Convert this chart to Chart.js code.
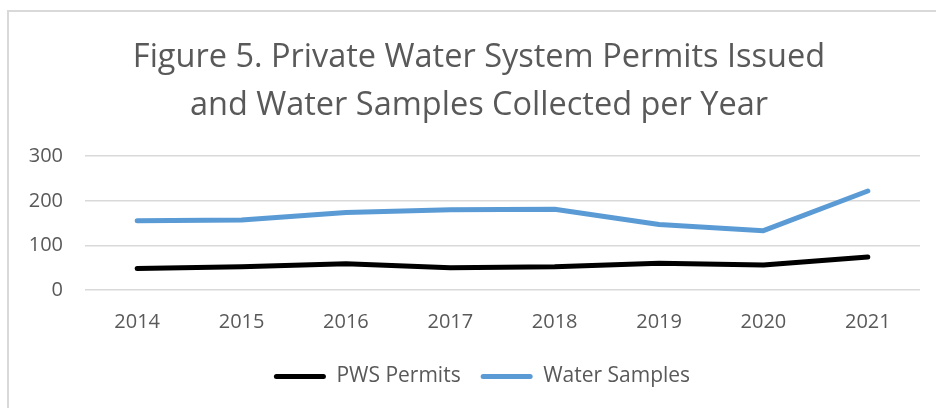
<!DOCTYPE html>
<html>
<head>
<meta charset="utf-8">
<script src="https://cdn.jsdelivr.net/npm/chart.js@4.4.0/dist/chart.umd.min.js"></script>
<style>
  html, body { margin: 0; padding: 0; background: #fff; }
  body { width: 936px; height: 408px; position: relative; overflow: hidden; }
  .marco {
    position: absolute; left: 7px; top: 10px; width: 960px; height: 430px;
    border-left: 2px solid #d9d9d9; border-top: 2px solid #d9d9d9;
  }
  .lienzo { position: absolute; left: 0; top: 0; width: 936px; height: 408px; }
</style>
</head>
<body>
<div class="marco"></div>
<div class="lienzo"><canvas id="grafica"></canvas></div>
<script>
// Datos
const anios = ['2014', '2015', '2016', '2017', '2018', '2019', '2020', '2021'];
const permisosPWS = [48, 52, 59, 50, 52, 60, 56, 74];
const muestrasAgua = [155, 157, 174, 180, 181, 147, 133, 222];
const ticksY = [0, 100, 200, 300];

const gris = '#595959';
const fuente = "'Open Sans', sans-serif";

// El título y la leyenda del original están centrados algo más a la derecha
const desplazarCajas = {
    id: 'desplazarCajas',
    afterLayout(chart) {
        const mover = (caja, dx) => { if (caja) { caja.left += dx; caja.right += dx; } };
        mover(chart.titleBlock, 9);
        mover(chart.legend, 12);
    }
};

const ctx = document.getElementById('grafica').getContext('2d');
new Chart(ctx, {
    type: 'line',
    data: {
        labels: anios,
        datasets: [
            {
                label: 'PWS Permits',
                data: permisosPWS,
                borderColor: '#000000',
                backgroundColor: '#000000',
                borderWidth: 5,
                borderCapStyle: 'round',
                borderJoinStyle: 'round',
                pointRadius: 0,
                tension: 0
            },
            {
                label: 'Water Samples',
                data: muestrasAgua,
                borderColor: '#5b9bd5',
                backgroundColor: '#5b9bd5',
                borderWidth: 5,
                borderCapStyle: 'round',
                borderJoinStyle: 'round',
                pointRadius: 0,
                tension: 0
            }
        ]
    },
    options: {
        responsive: true,
        maintainAspectRatio: false,
        animation: false,
        layout: { padding: { top: 34, left: 20, right: 16, bottom: 11 } },
        plugins: {
            title: {
                display: true,
                text: ['Figure 5. Private Water System Permits Issued', 'and Water Samples Collected per Year'],
                color: gris,
                font: { family: fuente, size: 32.5, weight: 'normal', lineHeight: 1.48 },
                padding: { top: 0, bottom: 26 }
            },
            legend: {
                position: 'bottom',
                labels: {
                    color: gris,
                    font: { family: fuente, size: 21 },
                    boxWidth: 52,
                    boxHeight: 5,
                    padding: 20,
                    generateLabels: chart => chart.data.datasets.map((ds, i) => ({
                        text: ds.label,
                        fillStyle: ds.borderColor,
                        strokeStyle: ds.borderColor,
                        lineWidth: 0,
                        borderRadius: 2.5,
                        fontColor: gris,
                        datasetIndex: i
                    }))
                }
            },
            tooltip: { enabled: false }
        },
        scales: {
            x: {
                offset: true,
                grid: { display: false },
                border: { display: false },
                ticks: { color: gris, font: { family: fuente, size: 20 }, padding: 12 }
            },
            y: {
                min: 0,
                max: 300,
                afterBuildTicks: escala => { escala.ticks = ticksY.map(v => ({ value: v })); },
                grid: { color: '#d9d9d9', lineWidth: 1.5, drawTicks: false },
                border: { display: false },
                ticks: { color: gris, font: { family: fuente, size: 20 }, padding: 22 },
                afterFit: escala => { escala.width = 65; }
            }
        }
    },
    plugins: [desplazarCajas]
});
</script>
</body>
</html>
